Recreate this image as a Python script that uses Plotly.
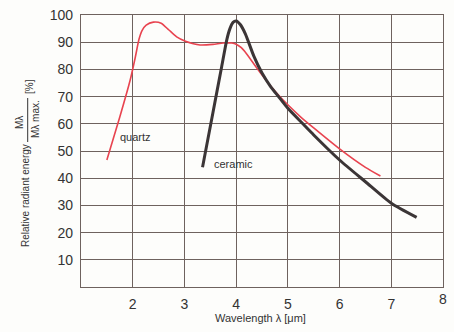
import plotly.graph_objects as go

quartz_x = [1.5, 1.75, 1.95, 2.05, 2.12, 2.18, 2.26, 2.4, 2.55, 2.7, 2.85, 3.02, 3.3, 3.55, 3.75, 3.92, 4.0, 4.1, 4.2, 4.4, 4.6, 4.8, 5.0, 5.25, 5.5, 6.0, 6.5, 6.79]
quartz_y = [46.7, 62.5, 76.0, 84.5, 91.0, 94.3, 96.3, 97.4, 97.0, 94.5, 92.0, 90.4, 89.0, 89.2, 89.7, 89.7, 89.3, 88.0, 85.8, 80.5, 75.5, 71.0, 67.0, 62.5, 58.5, 50.8, 44.0, 40.8]

ceramic_x = [3.35, 3.55, 3.72, 3.82, 3.88, 3.94, 4.0, 4.08, 4.18, 4.34, 4.5, 4.66, 4.82, 5.0, 5.28, 5.5, 6.0, 6.5, 7.0, 7.49]
ceramic_y = [44.0, 64.0, 81.0, 91.0, 95.0, 97.3, 97.8, 96.5, 93.0, 85.0, 78.7, 73.9, 70.0, 65.7, 60.2, 55.9, 46.7, 38.7, 30.8, 25.6]

x_ticks = [2, 3, 4, 5, 6, 7, 8]
y_ticks = [10, 20, 30, 40, 50, 60, 70, 80, 90, 100]

grid_col = "#6e625e"
text_col = "#333333"
font_fam = "Liberation Sans, Arial, sans-serif"

L, R, T, B = 81, 11, 15, 45
W, H = 454, 332
PW, PH = W - L - R, H - T - B

fig = go.Figure()
fig.add_trace(go.Scatter(x=quartz_x, y=quartz_y, mode="lines",
                         line=dict(color="#e8434f", width=1.6, shape="spline", smoothing=0.6),
                         showlegend=False, hoverinfo="skip"))
fig.add_trace(go.Scatter(x=ceramic_x, y=ceramic_y, mode="lines",
                         line=dict(color="#3b3536", width=3, shape="spline", smoothing=0.6),
                         showlegend=False, hoverinfo="skip"))

fig.update_layout(
    width=W, height=H,
    margin=dict(l=L, r=R, t=T, b=B, autoexpand=False),
    paper_bgcolor="#fdfdfb", plot_bgcolor="#fdfdfb",
    font=dict(family=font_fam, color=text_col),
    xaxis=dict(range=[1, 8], tickvals=x_ticks[:-1], ticktext=[str(v) for v in x_ticks[:-1]],
               showgrid=True, gridcolor=grid_col, gridwidth=1.3,
               showline=True, linecolor=grid_col, linewidth=1.3, mirror=True,
               zeroline=False, ticks="", ticklabelstandoff=4, automargin=False,
               tickfont=dict(size=14, color=text_col)),
    yaxis=dict(range=[0, 100.02], tickvals=y_ticks, ticktext=[str(v) for v in y_ticks],
               showgrid=True, gridcolor=grid_col, gridwidth=1.3,
               showline=True, linecolor=grid_col, linewidth=1.3, mirror=True,
               zeroline=False, ticks="", ticklabelstandoff=4, automargin=False,
               tickfont=dict(size=14, color=text_col)),
)

# last x tick label (at the right frame edge) drawn as text at the axis position
fig.add_annotation(text=str(x_ticks[-1]), x=x_ticks[-1], xref="x",
                   y=1 - (299 - T) / PH, yref="paper", xanchor="center", yanchor="middle",
                   showarrow=False, font=dict(size=14, color=text_col, family=font_fam))

for text, x, y in [("quartz", 1.72, 55.3), ("ceramic", 3.53, 45.2)]:
    fig.add_annotation(text=text, x=x, y=y, xref="x", yref="y",
                       xanchor="left", yanchor="middle", showarrow=False,
                       font=dict(size=11, color=text_col, family=font_fam))


def px_ann(text, px, py, size=11, angle=0):
    fig.add_annotation(text=text, x=(px - L) / PW, y=1 - (py - T) / PH,
                       xref="paper", yref="paper", xanchor="center", yanchor="middle",
                       showarrow=False, textangle=angle,
                       font=dict(size=size, color=text_col, family=font_fam))


px_ann("Wavelength λ [μm]", 260, 318, 11)
px_ann("Relative radiant energy", 25, 196, 10, -90)
px_ann("Mλ", 20, 122, 10, -90)
px_ann("Mλ max.", 35, 119, 10, -90)
px_ann("[%]", 30, 87, 10, -90)

fig.add_shape(type="line", xref="paper", yref="paper",
              x0=(27.7 - L) / PW, x1=(27.7 - L) / PW,
              y0=1 - (98 - T) / PH, y1=1 - (142 - T) / PH,
              line=dict(color=text_col, width=1))

fig.write_html("out.html", config={"displayModeBar": False},
               post_script="document.body.style.margin='0';document.body.style.overflow='hidden';")
